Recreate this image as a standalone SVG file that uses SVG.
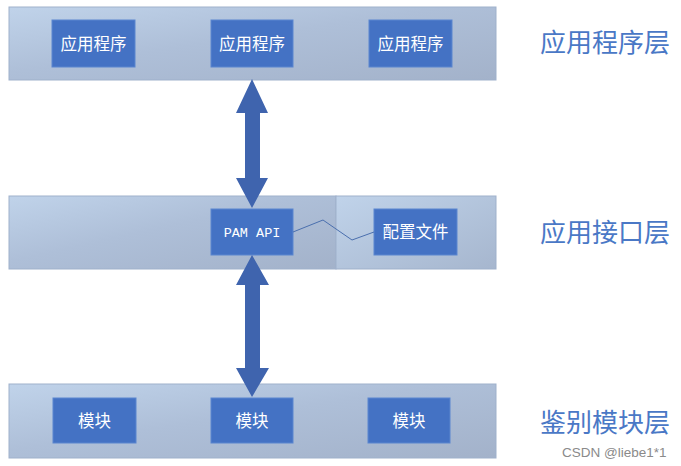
<svg xmlns="http://www.w3.org/2000/svg" width="681" height="466" viewBox="0 0 681 466">
<defs>
<linearGradient id="band" x1="0" y1="0" x2="1" y2="1" gradientUnits="objectBoundingBox">
<stop offset="0" stop-color="#c0d3ea"/>
<stop offset="0.45" stop-color="#aebfd8"/>
<stop offset="1" stop-color="#a3b2ca"/>
</linearGradient>
<linearGradient id="band2" x1="0" y1="0" x2="1" y2="1">
<stop offset="0" stop-color="#c0d3ea"/>
<stop offset="1" stop-color="#a6b6ce"/>
</linearGradient>
<style>
.band{fill:url(#band);stroke:#9fb1cb;stroke-width:1}
.box{fill:#4472c4;stroke:#5a86cf;stroke-width:1}
.bt{fill:#ffffff;font-family:"Noto Sans CJK SC","Noto Sans",sans-serif;font-size:16.5px;text-anchor:middle}
.mono{fill:#ffffff;font-family:"Liberation Mono","DejaVu Sans Mono",monospace;font-size:13.5px;text-anchor:middle}
.lbl{fill:#4a78c6;font-family:"Noto Sans CJK SC","Noto Sans",sans-serif;font-size:26px;text-anchor:start}
.arrow{fill:#3f64ae}
</style>
</defs>
<rect width="681" height="466" fill="#ffffff"/>

<g id="layer-app">
<rect class="band" x="9" y="7" width="487" height="73"/>
</g>
<g id="layer-api">
<rect class="band" x="9" y="196" width="327" height="73"/>
<rect class="band" x="336" y="196" width="160" height="73" style="fill:url(#band2)"/>
</g>
<g id="layer-mod">
<rect class="band" x="9" y="384" width="487" height="74"/>
</g>

<g id="app1"><rect class="box" x="52" y="20" width="83" height="47"/><text class="bt" x="93.5" y="49.5">应用程序</text></g>
<g id="app2"><rect class="box" x="211" y="20" width="82" height="47"/><text class="bt" x="252" y="49.5">应用程序</text></g>
<g id="app3"><rect class="box" x="369" y="20" width="83" height="47"/><text class="bt" x="410.5" y="49.5">应用程序</text></g>

<g id="pam"><rect class="box" x="211" y="209" width="82" height="46"/><text class="mono" x="252" y="237">PAM API</text></g>
<g id="config"><rect class="box" x="374" y="209" width="83" height="46"/><text class="bt" x="415.5" y="237.5">配置文件</text></g>

<g id="mod1"><rect class="box" x="53" y="398" width="83" height="45"/><text class="bt" x="94.5" y="426.5">模块</text></g>
<g id="mod2"><rect class="box" x="211" y="398" width="82" height="45"/><text class="bt" x="252" y="426.5">模块</text></g>
<g id="mod3"><rect class="box" x="368" y="398" width="82" height="45"/><text class="bt" x="409" y="426.5">模块</text></g>

<g id="connectors">
<polygon class="arrow" points="252,79 268,113 260,113 260,178 268,178 252,208 236,178 245,178 245,113 236,113"/>
<polygon class="arrow" points="252,255 269,285 260,285 260,368 269,368 252,397 236,368 245,368 245,285 236,285"/>
<polyline points="293,232 323,220 352,240 374,232" fill="none" stroke="#4a6fae" stroke-width="1"/>
</g>

<g id="labels">
<text class="lbl" x="540" y="52">应用程序层</text>
<text class="lbl" x="540" y="242">应用接口层</text>
<text class="lbl" x="540" y="432">鉴别模块层</text>
<text x="562" y="457" style="fill:#8a8a8a;font-family:'Liberation Sans',Arial,sans-serif;font-size:13.5px">CSDN @liebe1*1</text>
</g>
</svg>
